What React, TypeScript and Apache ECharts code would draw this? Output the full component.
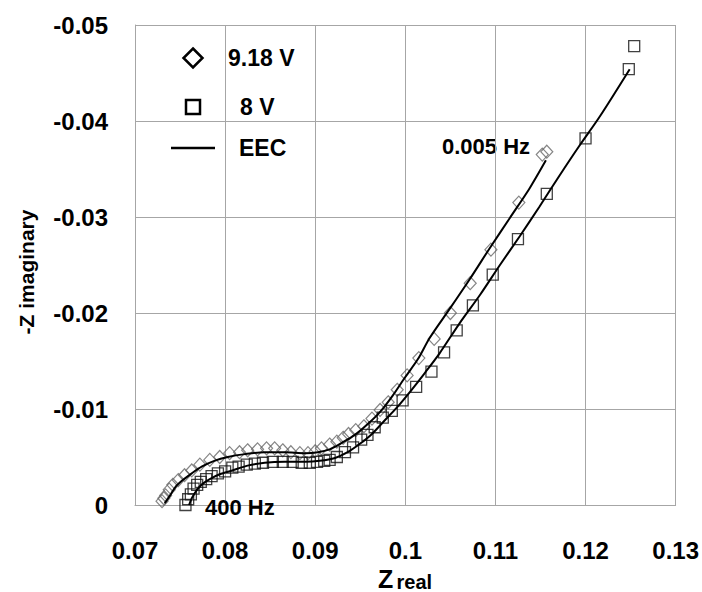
import React, { useEffect, useRef } from "react";
import * as echarts from "echarts";

// 9.18 V measured points (Z real, Z imaginary)
const v918Real = [
  0.0730, 0.0732, 0.0734, 0.0738, 0.0742, 0.0748, 0.0755, 0.0763, 0.0772, 0.0783,
  0.0794, 0.0805, 0.0816, 0.0825, 0.0836, 0.0846, 0.0855, 0.0864, 0.0873, 0.0883,
  0.0892, 0.0900, 0.0907, 0.0916, 0.0924, 0.0931, 0.0937, 0.0945, 0.0954, 0.0963,
  0.0972, 0.0981, 0.0991, 0.1002, 0.1015, 0.1032, 0.1050, 0.1072, 0.1095, 0.1126,
  0.1152, 0.1157,
];
const v918Imag = [
  -0.0004, -0.0007, -0.0010, -0.0016, -0.0021, -0.0026, -0.0031, -0.0036, -0.0042, -0.0047,
  -0.0050, -0.0054, -0.0055, -0.0057, -0.0058, -0.0059, -0.0059, -0.0057, -0.0055, -0.0054,
  -0.0054, -0.0056, -0.0059, -0.0063, -0.0066, -0.0070, -0.0074, -0.0078, -0.0082, -0.0090,
  -0.0099, -0.0107, -0.0120, -0.0135, -0.0153, -0.0173, -0.0200, -0.0231, -0.0266, -0.0315,
  -0.0365, -0.0368,
];

// 8 V measured points
const v8Real = [
  0.0756, 0.0759, 0.0762, 0.0765, 0.0769, 0.0773, 0.0779, 0.0785, 0.0792, 0.0800,
  0.0808, 0.0815, 0.0824, 0.0833, 0.0842, 0.0853, 0.0864, 0.0875, 0.0885, 0.0894,
  0.0902, 0.0910, 0.0916, 0.0924, 0.0933, 0.0942, 0.0951, 0.0958, 0.0966, 0.0975,
  0.0985, 0.0997, 0.1012, 0.1029, 0.1043, 0.1057, 0.1075, 0.1097, 0.1125, 0.1157,
  0.1200, 0.1248, 0.1254,
];
const v8Imag = [
  0.0000, -0.0006, -0.0011, -0.0017, -0.0021, -0.0024, -0.0027, -0.0030, -0.0033, -0.0035,
  -0.0039, -0.0040, -0.0042, -0.0043, -0.0044, -0.0045, -0.0045, -0.0045, -0.0044, -0.0044,
  -0.0045, -0.0046, -0.0047, -0.0050, -0.0055, -0.0060, -0.0068, -0.0073, -0.0081, -0.0091,
  -0.0098, -0.0109, -0.0123, -0.0139, -0.0159, -0.0182, -0.0208, -0.0240, -0.0277, -0.0324,
  -0.0382, -0.0454, -0.0478,
];

// EEC fit for 9.18 V
const eec918Real = [
  0.0733, 0.0739, 0.0745, 0.0753, 0.0763, 0.0774, 0.0788, 0.0803, 0.0822, 0.0844,
  0.0866, 0.0889, 0.0903, 0.0916, 0.0930, 0.0944, 0.0958, 0.0972, 0.0986, 0.0999,
  0.1014, 0.1027, 0.1049, 0.1072, 0.1094, 0.1116, 0.1138, 0.1156,
];
const eec918Imag = [
  -0.0002, -0.0010, -0.0019, -0.0026, -0.0033, -0.0040, -0.0046, -0.0050, -0.0053, -0.0055,
  -0.0055, -0.0054, -0.0055, -0.0058, -0.0065, -0.0073, -0.0084, -0.0097, -0.0114, -0.0132,
  -0.0152, -0.0174, -0.0204, -0.0236, -0.0268, -0.0299, -0.0330, -0.0359,
];

// EEC fit for 8 V
const eec8Real = [
  0.0760, 0.0763, 0.0769, 0.0775, 0.0783, 0.0794, 0.0808, 0.0825, 0.0844, 0.0866,
  0.0889, 0.0905, 0.0922, 0.0936, 0.0950, 0.0963, 0.0977, 0.0992, 0.1007, 0.1022,
  0.1038, 0.1060, 0.1083, 0.1105, 0.1127, 0.1149, 0.1171, 0.1193, 0.1216, 0.1249,
];
const eec8Imag = [
  0.0000, -0.0007, -0.0016, -0.0022, -0.0027, -0.0032, -0.0036, -0.0041, -0.0044, -0.0045,
  -0.0045, -0.0046, -0.0049, -0.0055, -0.0064, -0.0074, -0.0088, -0.0103, -0.0120, -0.0138,
  -0.0158, -0.0189, -0.0219, -0.0250, -0.0280, -0.0311, -0.0343, -0.0374, -0.0405, -0.0454,
];

const seriesNames = ["9.18 V", "8 V", "EEC"];
const annotations = ["0.005 Hz", "400 Hz"];
const xTitle = ["Z", "real"];
const yTitle = "-Z imaginary";

const zip = (a: number[], b: number[]) => a.map((v, i) => [v, b[i]]);

const FONT = "'Liberation Sans', Arial, sans-serif";

export default function App() {
  const ref = useRef<HTMLDivElement>(null);

  useEffect(() => {
    if (!ref.current) return;
    const chart = echarts.init(ref.current, null, { renderer: "svg" });
    const gridColor = "#a6a6a6";
    chart.setOption({
      animation: false,
      backgroundColor: "#ffffff",
      textStyle: { fontFamily: FONT },
      grid: { left: 135, top: 25, right: 26, bottom: 87, containLabel: false },
      xAxis: {
        type: "value",
        min: 0.07,
        max: 0.13,
        interval: 0.01,
        axisLine: { show: true, onZero: false, lineStyle: { color: gridColor, width: 1 } },
        axisTick: { show: false },
        splitLine: { show: true, lineStyle: { color: gridColor, width: 1 } },
        axisLabel: {
          margin: 33,
          color: "#000",
          fontSize: 24,
          fontWeight: "bold",
          fontFamily: FONT,
          formatter: (v: number) => String(parseFloat(v.toFixed(3))),
        },
      },
      yAxis: {
        type: "value",
        min: -0.05,
        max: 0,
        interval: 0.01,
        inverse: true,
        axisLine: { show: true, onZero: false, lineStyle: { color: gridColor, width: 1 } },
        axisTick: { show: false },
        splitLine: { show: true, lineStyle: { color: gridColor, width: 1 } },
        axisLabel: {
          margin: 27,
          color: "#000",
          fontSize: 24,
          fontWeight: "bold",
          fontFamily: FONT,
          formatter: (v: number) => String(parseFloat(v.toFixed(3))),
        },
      },
      series: [
        {
          name: seriesNames[0],
          type: "scatter",
          data: zip(v918Real, v918Imag),
          symbol: "diamond",
          symbolSize: [12, 13],
          itemStyle: { color: "rgba(255,255,255,0)", borderColor: "#666", borderWidth: 1.2 },
          z: 2,
        },
        {
          name: seriesNames[1],
          type: "scatter",
          data: zip(v8Real, v8Imag),
          symbol: "rect",
          symbolSize: 11,
          itemStyle: { color: "rgba(255,255,255,0)", borderColor: "#111", borderWidth: 1.3 },
          z: 3,
        },
        {
          name: seriesNames[2],
          type: "line",
          data: zip(eec918Real, eec918Imag),
          smooth: 0.3,
          showSymbol: false,
          lineStyle: { color: "#000", width: 2 },
          z: 4,
        },
        {
          name: seriesNames[2],
          type: "line",
          data: zip(eec8Real, eec8Imag),
          smooth: 0.3,
          showSymbol: false,
          lineStyle: { color: "#000", width: 2 },
          z: 4,
        },
      ],
      graphic: [
        // legend
        {
          type: "polygon",
          shape: { points: [[193, 48.5], [202.5, 58], [193, 67.5], [183.5, 58]] },
          style: { fill: "rgba(255,255,255,0)", stroke: "#000", lineWidth: 2.5 },
        },
        {
          type: "rect",
          shape: { x: 186, y: 100, width: 14, height: 14 },
          style: { fill: "rgba(255,255,255,0)", stroke: "#000", lineWidth: 2.5 },
        },
        {
          type: "line",
          shape: { x1: 171, y1: 148, x2: 215, y2: 148 },
          style: { stroke: "#000", lineWidth: 2.5 },
        },
        {
          type: "text",
          x: 228,
          y: 58,
          style: { text: seriesNames[0], font: `bold 23px ${FONT}`, fill: "#000", verticalAlign: "middle", align: "left" },
        },
        {
          type: "text",
          x: 240,
          y: 107,
          style: { text: seriesNames[1], font: `bold 23px ${FONT}`, fill: "#000", verticalAlign: "middle", align: "left" },
        },
        {
          type: "text",
          x: 239,
          y: 148,
          style: { text: seriesNames[2], font: `bold 23px ${FONT}`, fill: "#000", verticalAlign: "middle", align: "left" },
        },
        // annotations
        {
          type: "text",
          x: 442,
          y: 146,
          style: { text: annotations[0], font: `bold 22px ${FONT}`, fill: "#000", verticalAlign: "middle", align: "left" },
        },
        {
          type: "text",
          x: 205,
          y: 507,
          z: 10,
          style: { text: annotations[1], font: `bold 22px ${FONT}`, fill: "#000", verticalAlign: "middle", align: "left" },
        },
        // axis titles
        {
          type: "text",
          x: 26,
          y: 272,
          rotation: Math.PI / 2,
          style: { text: yTitle, font: `bold 21px ${FONT}`, fill: "#000", verticalAlign: "middle", align: "center" },
        },
        {
          type: "text",
          x: 405,
          y: 579,
          style: {
            text: `{a|${xTitle[0]}} {b|${xTitle[1]}}`,
            align: "center",
            verticalAlign: "middle",
            rich: {
              a: { font: `bold 25px ${FONT}`, fill: "#000", verticalAlign: "bottom" },
              b: { font: `bold 20px ${FONT}`, fill: "#000", verticalAlign: "bottom" },
            },
          },
        },
      ],
    });
    return () => chart.dispose();
  }, []);

  return (
    <div
      ref={ref}
      style={{ position: "fixed", left: 0, top: 0, width: 702, height: 592, background: "#fff" }}
    />
  );
}
